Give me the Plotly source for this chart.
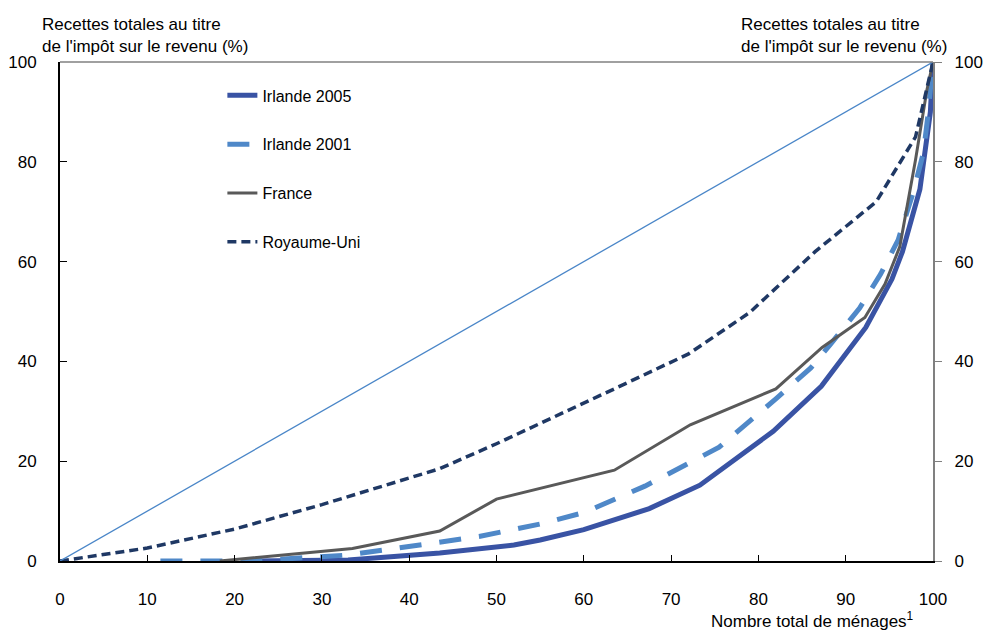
import plotly.graph_objects as go

# Data
diag_x = [0, 100]
diag_y = [0, 100]

irl05_x = [21, 33, 43.5, 48, 52, 55, 60, 67.5, 73.3, 81.7, 87.2, 92.3, 95.3, 96.5, 98.5, 99.7, 100]
irl05_y = [0, 0.2, 1.6, 2.5, 3.2, 4.2, 6.3, 10.5, 15.2, 26, 35, 46.8, 56.5, 62, 74.5, 90, 100]

irl01_x = [11.5, 22, 33, 43.5, 48, 55, 60, 67, 75.5, 82, 86, 88.2, 91.6, 94, 96, 97.7, 98.9, 99.4, 100]
irl01_y = [0, 0, 1.2, 3.8, 4.9, 7.4, 9.7, 15, 22.8, 32.5, 38.7, 43.3, 50.7, 57.5, 64.3, 73.7, 81.8, 89, 100]

fra_x = [18.3, 33.5, 43.5, 50, 63.5, 72.2, 82, 87.3, 92.2, 94.5, 96.2, 98, 99.3, 100]
fra_y = [0, 2.5, 6, 12.4, 18.2, 27.3, 34.5, 42.8, 48.8, 55.5, 63, 80.4, 94.4, 100]

uk_x = [0, 10, 20, 30, 43.5, 50, 63.5, 72, 79, 86.5, 93.5, 98, 100]
uk_y = [0, 2.6, 6.4, 11.3, 18.5, 23.5, 34.5, 41.5, 49.8, 62, 72, 85, 100]

x_ticks = [0, 10, 20, 30, 40, 50, 60, 70, 80, 90, 100]
y_ticks = [0, 20, 40, 60, 80, 100]
y_ticks_right = ["\u00a0\u00a0" + str(v) for v in y_ticks]

names = ["Irlande 2005", "Irlande 2001", "France", "Royaume-Uni"]
y_title = "Recettes totales au titre<br>de l'impôt sur le revenu (%)"
x_title = "Nombre total de ménages<sup>1</sup>"

FONT = "Liberation Sans, Arial, sans-serif"
FS = 17

fig = go.Figure()
fig.add_trace(go.Scatter(x=diag_x, y=diag_y, mode="lines", yaxis="y2",
                         line=dict(color="#4a86c8", width=1.3), showlegend=False, hoverinfo="skip"))
fig.add_trace(go.Scatter(x=irl05_x, y=irl05_y, mode="lines", name=names[0], legendgroup="a",
                         line=dict(color="#3953a4", width=5)))
fig.add_trace(go.Scatter(x=irl01_x, y=irl01_y, mode="lines", name=names[1], legendgroup="b",
                         line=dict(color="#4f88c8", width=5, dash="22px,18px")))
fig.add_trace(go.Scatter(x=fra_x, y=fra_y, mode="lines", name=names[2], legendgroup="c",
                         line=dict(color="#595959", width=3)))
fig.add_trace(go.Scatter(x=uk_x, y=uk_y, mode="lines", name=names[3], legendgroup="d",
                         line=dict(color="#1f3864", width=3.5, dash="9px,5px")))

fig.update_layout(
    width=986, height=630,
    margin=dict(l=60, r=53, t=62, b=69),
    paper_bgcolor="white", plot_bgcolor="white",
    font=dict(family=FONT, size=FS, color="black"),
    showlegend=True,
    legend=dict(x=0.186, y=0.967, xanchor="left", yanchor="top",
                traceorder="grouped", tracegroupgap=25,
                font=dict(family=FONT, size=16), bgcolor="rgba(0,0,0,0)"),
    xaxis=dict(range=[0, 100], tickvals=x_ticks, ticks="inside", ticklen=6, tickcolor="black",
               showline=True, linecolor="black", linewidth=2, showgrid=False, zeroline=False,
               ticklabelstandoff=22, tickfont=dict(size=FS), automargin=False),
    yaxis=dict(range=[0, 100], tickvals=y_ticks, ticks="inside", ticklen=7, tickcolor="black",
               showline=True, linecolor="black", linewidth=2, showgrid=False, zeroline=False,
               ticklabelstandoff=18, tickfont=dict(size=FS), automargin=False),
    yaxis2=dict(range=[0, 100], tickvals=y_ticks, ticktext=y_ticks_right, overlaying="y", side="right",
                ticks="outside", ticklen=7, tickcolor="#808080",
                showline=True, linecolor="#808080", linewidth=1.5, showgrid=False, zeroline=False,
                tickfont=dict(size=FS), automargin=False),
    shapes=[dict(type="line", xref="paper", yref="paper", x0=0, x1=1, y0=1, y1=1,
                 line=dict(color="#808080", width=1.5))],
    annotations=[
        dict(text=y_title, xref="paper", yref="paper", x=-0.023, y=1.0, xanchor="left", yanchor="bottom",
             yshift=4, showarrow=False, align="left", font=dict(size=FS)),
        dict(text=y_title, xref="paper", yref="paper", x=1.018, y=1.0, xanchor="right", yanchor="bottom",
             yshift=4, showarrow=False, align="left", font=dict(size=FS)),
        dict(text=x_title, xref="paper", yref="paper", x=0.98, y=0, xanchor="right", yanchor="top",
             yshift=-46, showarrow=False, font=dict(size=FS)),
    ],
)

fig.write_html("out.html", config={"displayModeBar": False},
               post_script="document.body.style.margin='0';")
